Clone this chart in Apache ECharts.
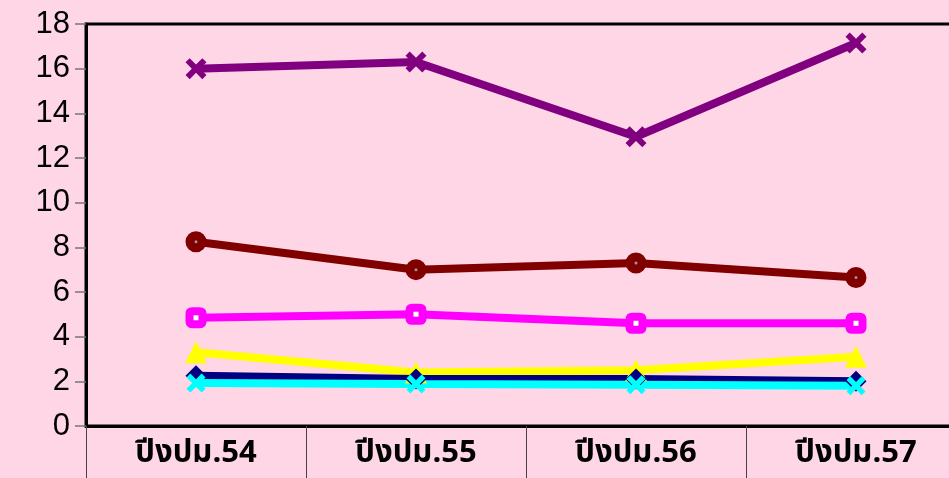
<!DOCTYPE html>
<html lang="th">
<head>
  <meta charset="UTF-8">
  <title>chart</title>
  <style>
    html, body { margin: 0; padding: 0; background: #FFD6E6; }
    #chart { width: 949px; height: 478px; }
  </style>
</head>
<body>
  <script src="https://cdn.jsdelivr.net/npm/echarts@6/dist/echarts.min.js"></script>
  <div id="chart"></div>
  <script>
    var categories = ['ปีงปม.54', 'ปีงปม.55', 'ปีงปม.56', 'ปีงปม.57']
    var purple = [16.0, 16.3, 12.95, 17.15]
    var maroon = [8.25, 7.0, 7.3, 6.65]
    var magenta = [4.85, 5.0, 4.6, 4.6]
    var yellow = [3.3, 2.4, 2.5, 3.1]
    var navy = [2.25, 2.1, 2.1, 2.0]
    var cyan = [1.92, 1.88, 1.85, 1.8]

    var xShape = 'path://M2,0 L5,3 L8,0 L10,2 L7,5 L10,8 L8,10 L5,7 L2,10 L0,8 L3,5 L0,2 Z'
    var roundSq = 'path://M2,0 L8,0 Q10,0 10,2 L10,8 Q10,10 8,10 L2,10 Q0,10 0,8 L0,2 Q0,0 2,0 Z'

    function line(name, data, color, symbol, size, extra) {
      var s = {
        name: name,
        type: 'line',
        data: data,
        symbol: symbol,
        symbolSize: size,
        lineStyle: { color: color, width: 8 },
        itemStyle: { color: color },
        animation: false
      }
      if (extra) s.itemStyle = extra
      return s
    }

    var chart = echarts.init(document.getElementById('chart'))
    chart.setOption({
      backgroundColor: '#FFD6E6',
      grid: { left: 86, top: 24, right: -17, bottom: 52, show: true, borderColor: '#000', borderWidth: 3,
        outerBoundsMode: 'none', containLabel: false },
      xAxis: {
        type: 'category',
        data: categories,
        boundaryGap: true,
        axisLine: { lineStyle: { color: '#000', width: 3 } },
        axisTick: { show: true, length: 55, lineStyle: { color: '#444', width: 1 } },
        axisLabel: { color: '#000', fontSize: 31, fontWeight: 'bold', margin: 14,
          fontFamily: '"Noto Sans Thai", "Liberation Sans", sans-serif' }
      },
      yAxis: {
        type: 'value',
        min: 0, max: 18, interval: 2,
        splitLine: { show: false },
        axisLine: { show: true, lineStyle: { color: '#000', width: 3 } },
        axisTick: { show: true, length: 11, lineStyle: { color: '#777', width: 1.5 } },
        axisLabel: { color: '#000', fontSize: 31, margin: 16, fontFamily: '"Liberation Sans", Arial, sans-serif' }
      },
      series: [
        line('s1', purple, '#800080', xShape, 21),
        line('s2', maroon, '#800000', 'circle', 12,
          { color: '#999', borderColor: '#800000', borderWidth: 9 }),
        line('s3', magenta, '#FF00FF', roundSq, 13,
          { color: '#fff', borderColor: '#FF00FF', borderWidth: 8 }),
        line('s4', yellow, '#FFFF00', 'triangle', 22),
        line('s5', navy, '#000080', 'diamond', 21),
        line('s6', cyan, '#00FFFF', xShape, 19)
      ]
    })
  </script>
</body>
</html>
